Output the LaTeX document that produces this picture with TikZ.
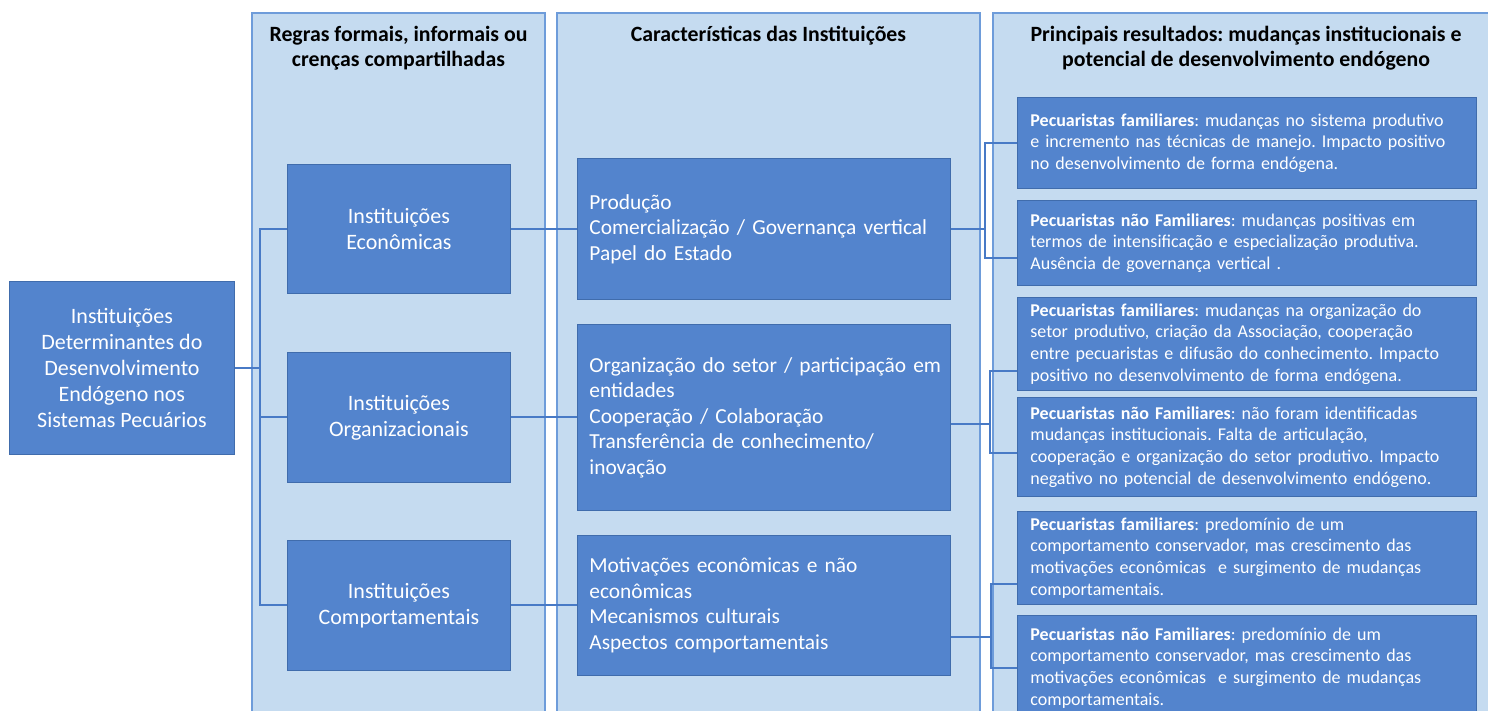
\documentclass[tikz,border=0pt]{standalone}
\usepackage{fontspec}
\setmainfont{Carlito}
\usetikzlibrary{calc}
\frenchspacing
\definecolor{panelfill}{RGB}{197,219,240}
\definecolor{paneldraw}{RGB}{110,156,218}
\definecolor{boxfill}{RGB}{83,132,205}
\definecolor{boxdraw}{RGB}{64,108,172}
\definecolor{linkcol}{RGB}{72,122,198}
\tikzset{
  panel/.style={fill=panelfill,draw=paneldraw,line width=1.6pt},
  head/.style={anchor=north,align=center,inner sep=0pt,
    font=\fontsize{21.8}{25}\selectfont\bfseries},
  inst/.style={fill=boxfill,draw=boxdraw,line width=0.8pt,text=white,
    anchor=north west,align=center,font=\fontsize{22}{26}\selectfont},
  trait/.style={inst,align=left,text width=349pt,inner xsep=12pt,
    minimum height=#1,font=\fontsize{21.4}{25.5}\selectfont},
  result/.style={inst,align=left,text width=433pt,inner xsep=13pt,
    minimum height=#1,font=\fontsize{18}{21.6}\selectfont},
  link/.style={draw=linkcol,line width=2pt}
}
\begin{document}
\begin{tikzpicture}[x=1pt,y=-1pt]
    \useasboundingbox (0,0) rectangle (1488,710);
    \clip (0,0) rectangle (1488,710); % the page cuts the bottom row
    % the three columns
    \draw[panel] (252,13) rectangle (545,725);
    \draw[panel] (557,13) rectangle (980,725);
    \draw[panel] (993,13) rectangle (1500,725);
    \node[head] (hRegras) at (398.5,26) {Regras formais, informais ou\\crenças compartilhadas};
    \node[head] (hCarac) at (768.5,26) {Características das Instituições};
    \node[head] (hResult) at (1246,26) {Principais resultados: mudanças institucionais e\\potencial de desenvolvimento endógeno};
    % left and institution boxes
    \node[inst,minimum width=225pt,minimum height=173pt] (root) at (9,281)
      {Instituições\\Determinantes do\\Desenvolvimento\\Endógeno nos\\Sistemas Pecuários};
    \node[inst,minimum width=223pt,minimum height=129pt] (econ) at (287,164) {Instituições\\Econômicas};
    \node[inst,minimum width=223pt,minimum height=130pt] (org) at (287,352) {Instituições\\Organizacionais};
    \node[inst,minimum width=223pt,minimum height=130pt] (comp) at (287,540) {Instituições\\Comportamentais};
    % characteristics
    \node[trait=141pt] (mid1) at (577,158)
      {Produção\\Comercialização / Governança vertical\\Papel do Estado};
    \node[trait=186pt] (mid2) at (577,324)
      {\mbox{Organização do setor / participação em}\\entidades\\Cooperação / Colaboração\\Transferência de conhecimento/\\inovação};
    \node[trait=140pt] (mid3) at (577,535)
      {Motivações econômicas e não\\econômicas\\Mecanismos culturais\\Aspectos comportamentais};
    % results
    \node[result=91pt] (r1) at (1017,97)
      {\textbf{Pecuaristas familiares}: mudanças no sistema produtivo\\e incremento nas técnicas de manejo. Impacto positivo\\no desenvolvimento de forma endógena.};
    \node[result=85pt] (r2) at (1017,200)
      {\textbf{Pecuaristas não Familiares}: mudanças positivas em\\termos de intensificação e especialização produtiva.\\Ausência de governança vertical .};
    \node[result=93pt] (r3) at (1017,297)
      {\textbf{Pecuaristas familiares}: mudanças na organização do\\setor produtivo, criação da Associação, cooperação\\entre pecuaristas e difusão do conhecimento. Impacto\\positivo no desenvolvimento de forma endógena.};
    \node[result=99pt] (r4) at (1017,397)
      {\textbf{Pecuaristas não Familiares}: não foram identificadas\\mudanças institucionais. Falta de articulação,\\cooperação e organização do setor produtivo. Impacto\\negativo no potencial de desenvolvimento endógeno.};
    \node[result=93pt] (r5) at (1017,511)
      {\textbf{Pecuaristas familiares}: predomínio de um\\comportamento conservador, mas crescimento das\\motivações econômicas \ e surgimento de mudanças\\comportamentais.};
    \node[result=105pt] (r6) at (1017,615)
      {\textbf{Pecuaristas não Familiares}: predomínio de um\\comportamento conservador, mas crescimento das\\motivações econômicas \ e surgimento de mudanças\\comportamentais.};
    % connectors
    \draw[link] (root.east) -- ++(25,0) coordinate (trunk);
    \draw[link] (econ.west) -| (trunk) |- (comp.west);
    \draw[link] (org.west) -- (org.west -| trunk);
    \draw[link] (econ.east) -- (mid1.west);
    \draw[link] (org.east) -- (mid2.west);
    \draw[link] (comp.east) -- (mid3.west);
    \draw[link] (mid1.east) -- ++(34,0) coordinate (fork1);
    \draw[link] (r1.west) -| (fork1) |- ([yshift=-15.5pt]r2.west);
    \draw[link] ([yshift=-7pt]mid2.east) -- ++(39,0) coordinate (fork2);
    \draw[link] ([yshift=-27.5pt]r3.west) -| (fork2) |- ([yshift=-6.5pt]r4.west);
    \draw[link] ([yshift=-32pt]mid3.east) -- ++(40,0) coordinate (fork3);
    \draw[link] ([yshift=-26.5pt]r5.west) -| (fork3) |- (r6.west);
\end{tikzpicture}
\end{document}
